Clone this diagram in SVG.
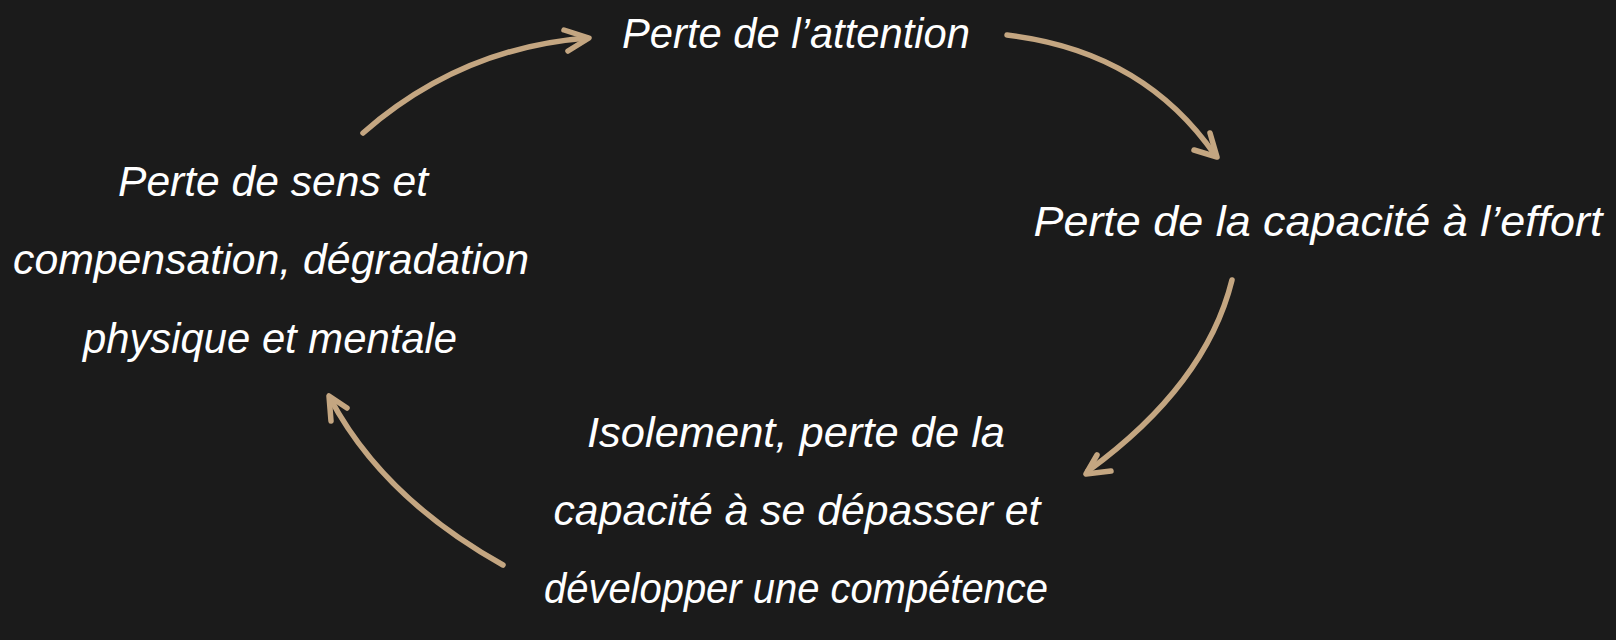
<svg xmlns="http://www.w3.org/2000/svg" width="1616" height="640" viewBox="0 0 1616 640">
  <defs>
    <style>
      .bg { fill: #1b1b1b; }
      .lbl { font-family: "Liberation Sans", "DejaVu Sans", sans-serif; font-style: italic; font-size: 43px; fill: #ffffff; text-anchor: middle; }
      .arc { fill: none; stroke: #c4a681; stroke-width: 5.5; stroke-linecap: round; stroke-linejoin: round; }
    </style>
  </defs>
  <rect class="bg" x="0" y="0" width="1616" height="640"/>

  <g id="node-attention">
    <text class="lbl" x="796" y="48" textLength="348" lengthAdjust="spacingAndGlyphs">Perte de l’attention</text>
  </g>
  <g id="node-effort">
    <text class="lbl" x="1318" y="236" textLength="569" lengthAdjust="spacingAndGlyphs">Perte de la capacité à l’effort</text>
  </g>
  <g id="node-isolement">
    <text class="lbl" x="796" y="447" textLength="418" lengthAdjust="spacingAndGlyphs">Isolement, perte de la</text>
    <text class="lbl" x="797" y="525" textLength="487" lengthAdjust="spacingAndGlyphs">capacité à se dépasser et</text>
    <text class="lbl" x="796" y="603" textLength="504" lengthAdjust="spacingAndGlyphs">développer une compétence</text>
  </g>
  <g id="node-sens">
    <text class="lbl" x="273" y="196" textLength="310" lengthAdjust="spacingAndGlyphs">Perte de sens et</text>
    <text class="lbl" x="271" y="274" textLength="516" lengthAdjust="spacingAndGlyphs">compensation, dégradation</text>
    <text class="lbl" x="270" y="353" textLength="374" lengthAdjust="spacingAndGlyphs">physique et mentale</text>
  </g>

  <g id="connectors">
    <path class="arc" d="M363,133 Q460,48 587,38"/>
    <polyline class="arc" points="564,30 589,38 568,51"/>

    <path class="arc" d="M1007,35 Q1143,51 1215,155"/>
    <polyline class="arc" points="1210,133 1217,157 1194,150"/>

    <path class="arc" d="M1232,280 Q1206,385 1088,471"/>
    <polyline class="arc" points="1097,455 1086,474 1111,471"/>

    <path class="arc" d="M503,565 Q383,498 330,398"/>
    <polyline class="arc" points="347,408 329,396 331,421"/>
  </g>
</svg>
